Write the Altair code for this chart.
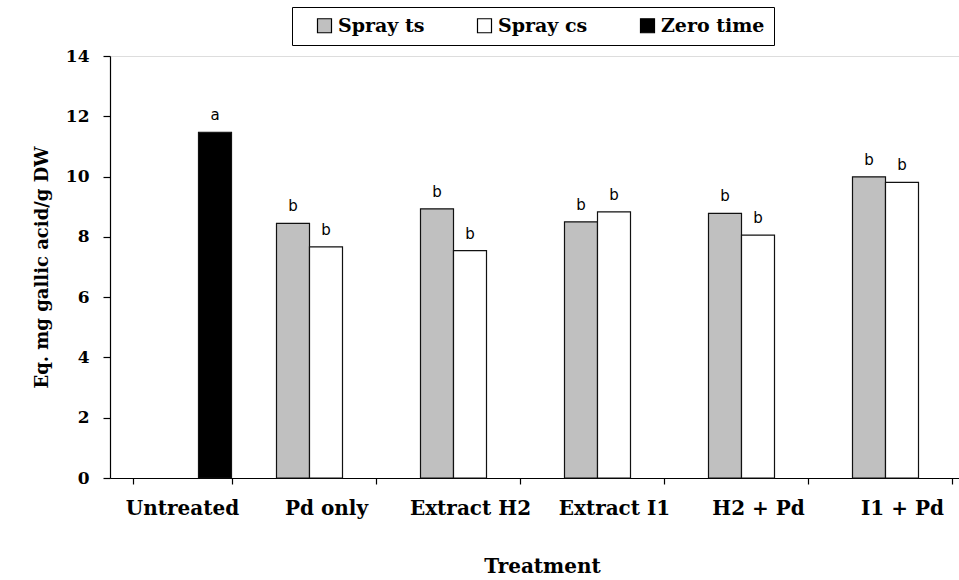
import altair as alt
import pandas as pd

categories = ["Untreated", "Pd only", "Extract H2", "Extract I1", "H2 + Pd", "I1 + Pd"]
series = ["Spray ts", "Spray cs", "Zero time"]
spray_ts = [None, 8.45, 8.93, 8.50, 8.78, 9.99]
spray_cs = [None, 7.67, 7.54, 8.83, 8.06, 9.81]
zero_time = [11.47, None, None, None, None, None]
letters_ts = [None, "b", "b", "b", "b", "b"]
letters_cs = [None, "b", "b", "b", "b", "b"]
letters_zero = ["a", None, None, None, None, None]
y_ticks = [0, 2, 4, 6, 8, 10, 12, 14]

rows = []
for i, c in enumerate(categories):
    for s, vals, lets in [("Spray ts", spray_ts, letters_ts),
                          ("Spray cs", spray_cs, letters_cs),
                          ("Zero time", zero_time, letters_zero)]:
        if vals[i] is not None:
            rows.append({"Treatment": c, "series": s, "value": vals[i], "letter": lets[i]})
df = pd.DataFrame(rows)

SERIF = "DejaVu Serif"

x_enc = alt.X(
    "Treatment:N",
    sort=categories,
    scale=alt.Scale(domain=categories, range=[0, 864], paddingInner=0.3125, paddingOuter=0.15625),
    axis=alt.Axis(
        title="Treatment", labelAngle=0, tickBand="extent", tickSize=6,
        labelPadding=14, titlePadding=38, labelFont=SERIF, labelFontWeight="bold",
        labelFontSize=20, titleFont=SERIF, titleFontWeight="bold", titleFontSize=20,
        domainColor="black", tickColor="black", labelColor="black", titleColor="black",
        domainWidth=1.2, tickWidth=1.2,
    ),
)
xo_enc = alt.XOffset("series:N", scale=alt.Scale(domain=series, paddingInner=0, paddingOuter=0))
y_enc = alt.Y(
    "value:Q",
    scale=alt.Scale(domain=[0, 14], nice=False),
    axis=alt.Axis(
        title="Eq. mg gallic acid/g DW", values=y_ticks, grid=False, tickSize=7,
        labelPadding=14, titlePadding=14, labelFont=SERIF, labelFontWeight="bold",
        labelFontSize=17, titleFont=SERIF, titleFontWeight="bold", titleFontSize=18,
        domainColor="black", tickColor="black", labelColor="black", titleColor="black",
        domainWidth=1.2, tickWidth=1.2,
    ),
)

bars = alt.Chart(df).mark_bar(stroke="#111111", strokeWidth=1.2).encode(
    x=x_enc,
    xOffset=xo_enc,
    y=y_enc,
    color=alt.Color(
        "series:N",
        scale=alt.Scale(domain=series, range=["#c0c0c0", "#ffffff", "#000000"]),
        legend=alt.Legend(
            title=None, orient="none", legendX=182, legendY=-49, direction="horizontal",
            columns=3, symbolType="square", symbolSize=196, symbolStrokeColor="black",
            symbolStrokeWidth=1.2, labelFont=SERIF, labelFontWeight="bold", labelFontSize=19,
            labelColor="black", labelOffset=4, columnPadding=36, padding=9,
            symbolOffset=14, strokeColor="black", fillColor="white",
        ),
    ),
)

labels = alt.Chart(df).mark_text(
    font="DejaVu Sans", fontSize=15, color="black", baseline="alphabetic", dy=-12
).encode(
    x=alt.X("Treatment:N", sort=categories),
    xOffset=alt.XOffset("series:N"),
    y="value:Q",
    text="letter:N",
)

chart = alt.layer(bars, labels).properties(
    width=849, height=422,
    autosize=alt.AutoSizeParams(type="none"),
    padding={"left": 110, "top": 56, "right": 0, "bottom": 102},
).configure_view(stroke=None).configure(background="white")

chart.save("out.html", embed_options={"renderer": "svg", "actions": False})
